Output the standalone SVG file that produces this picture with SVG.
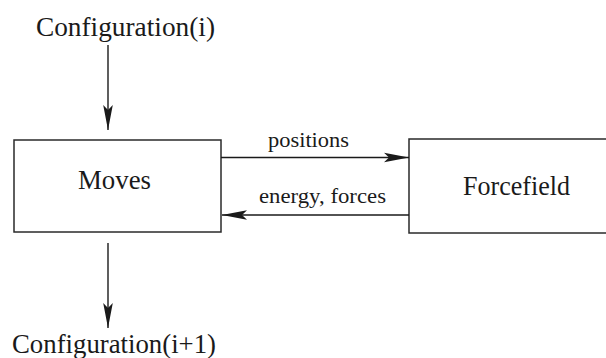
<svg xmlns="http://www.w3.org/2000/svg" width="606" height="358" viewBox="0 0 606 358">
<style>
.box{fill:#fff;stroke:#2a2a2a;stroke-width:1.5}
.lbl{font-family:"Liberation Serif","Times New Roman","DejaVu Serif",serif;fill:#1a1a1a}
.big{font-size:27px}
.small{font-size:22px}
.conn{stroke:#1a1a1a;stroke-width:1.4;fill:none;marker-end:url(#ah)}
</style>
<defs>
<marker id="ah" markerUnits="userSpaceOnUse" viewBox="-26 -6 27 12" refX="0" refY="0" markerWidth="27" markerHeight="12" orient="auto">
<path d="M0,0 L-25,-4.8 L-20,0 L-25,4.8 Z" fill="#1a1a1a"/>
</marker>
</defs>
<rect width="606" height="358" fill="#fff"/>
<g id="config-i">
<text class="lbl big" x="36" y="36" textLength="179" lengthAdjust="spacingAndGlyphs">Configuration(i)</text>
</g>
<g id="moves">
<rect class="box" x="14" y="140" width="207" height="92"/>
<text class="lbl big" x="78" y="189" textLength="73" lengthAdjust="spacingAndGlyphs">Moves</text>
</g>
<g id="forcefield">
<rect class="box" x="409" y="139" width="205" height="94"/>
<text class="lbl big" x="463" y="195" textLength="107" lengthAdjust="spacingAndGlyphs">Forcefield</text>
</g>
<g id="config-i1">
<text class="lbl big" x="12" y="353" textLength="204" lengthAdjust="spacingAndGlyphs">Configuration(i+1)</text>
</g>
<g id="connectors">
<line class="conn" x1="108" y1="45" x2="108" y2="130"/>
<line class="conn" x1="108" y1="243" x2="108" y2="328"/>
<line class="conn" x1="221" y1="157.5" x2="409" y2="157.5"/>
<line class="conn" x1="409" y1="215" x2="222" y2="215"/>
<text class="lbl small" x="268" y="147" textLength="81" lengthAdjust="spacingAndGlyphs">positions</text>
<text class="lbl small" x="259" y="203" textLength="127" lengthAdjust="spacingAndGlyphs">energy, forces</text>
</g>
</svg>
